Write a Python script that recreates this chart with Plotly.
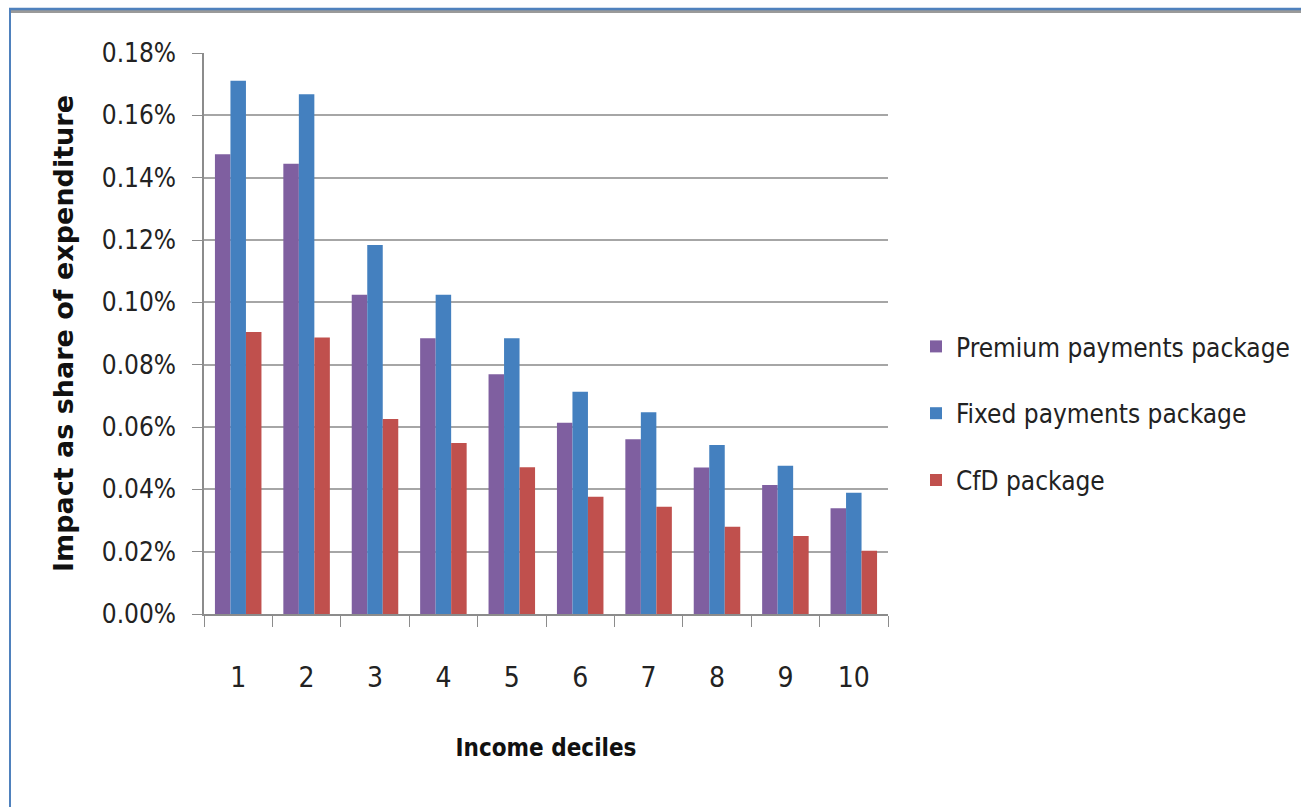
import plotly.graph_objects as go

# Income deciles and the modelled impact of each support package (as a share of expenditure)
deciles = ["1", "2", "3", "4", "5", "6", "7", "8", "9", "10"]
premium = [0.001475, 0.001445, 0.001024, 0.000885, 0.000769, 0.000614, 0.000561, 0.000470, 0.000414, 0.000339]
fixed = [0.001711, 0.001668, 0.001184, 0.001024, 0.000885, 0.000713, 0.000647, 0.000542, 0.000476, 0.000389]
cfd = [0.000905, 0.000887, 0.000626, 0.000549, 0.000471, 0.000376, 0.000344, 0.000280, 0.000250, 0.000203]

series_names = ["Premium payments package", "Fixed payments package", "CfD package"]
series_colors = ["#7F5FA0", "#4480BF", "#C0504D"]

FONT = "DejaVu Sans Condensed, Liberation Sans Narrow, Open Sans, sans-serif"
TITLE_FONT = "DejaVu Sans, Liberation Sans, sans-serif"

W, H = 1301, 807
L, R, T, B = 204, 888, 53, 614

fig = go.Figure()
for name, vals, col in zip(series_names, [premium, fixed, cfd], series_colors):
    fig.add_trace(go.Bar(
        x=deciles, y=vals, name=name, legendgroup=name,
        marker=dict(color=col, line=dict(width=0)),
    ))


def px_x(p):
    return (p - L) / (R - L)


def px_y(p):
    return (B - p) / (B - T)


# Outer frame: blue rule along the top with a soft grey shadow, and along the left side
shapes = [
    dict(type="line", xref="paper", yref="paper", x0=px_x(9), x1=px_x(W + 5),
         y0=px_y(11.5), y1=px_y(11.5), line=dict(color="#9A9A9A", width=3)),
    dict(type="line", xref="paper", yref="paper", x0=px_x(9), x1=px_x(W + 5),
         y0=px_y(9), y1=px_y(9), line=dict(color="#4F81BD", width=2.5)),
    dict(type="line", xref="paper", yref="paper", x0=px_x(10), x1=px_x(10),
         y0=px_y(8), y1=px_y(H + 5), line=dict(color="#4F81BD", width=2)),
]

fig.update_layout(
    width=W, height=H,
    margin=dict(l=L, r=W - R, t=T, b=H - B, pad=0, autoexpand=False),
    paper_bgcolor="white", plot_bgcolor="white",
    barmode="group", bargap=0.32, bargroupgap=0,
    font=dict(family=FONT, size=26, color="#222222"),
    shapes=shapes,
    showlegend=True,
    legend=dict(
        x=px_x(916), y=px_y(323), xanchor="left", yanchor="top",
        font=dict(family=FONT, size=26, color="#222222"),
        tracegroupgap=30, bgcolor="rgba(0,0,0,0)",
    ),
    xaxis=dict(
        type="category",
        showline=True, linecolor="#8C8C8C", linewidth=1.5,
        ticks="outside", tickson="boundaries", ticklen=11, tickcolor="#8C8C8C", tickwidth=1.2,
        ticklabelstandoff=38,
        tickfont=dict(family=FONT, size=28, color="#222222"),
        showgrid=False,
        title=dict(text="Income deciles", standoff=46,
                   font=dict(family=FONT, size=24, color="#111111", weight="bold")),
    ),
    yaxis=dict(
        range=[0, 0.0018], dtick=0.0002, tick0=0, tickformat=".2%",
        showline=True, linecolor="#8C8C8C", linewidth=1.5,
        ticks="outside", ticklen=10, tickcolor="#8C8C8C", tickwidth=1.2,
        ticklabelstandoff=11,
        tickfont=dict(family=FONT, size=26, color="#222222"),
        showgrid=True, gridcolor="#A6A6A6", gridwidth=2,
        zeroline=False,
        title=dict(text="Impact as share of expenditure", standoff=20,
                   font=dict(family=TITLE_FONT, size=27, color="#111111", weight="bold")),
    ),
)

fig.write_html("out.html")
